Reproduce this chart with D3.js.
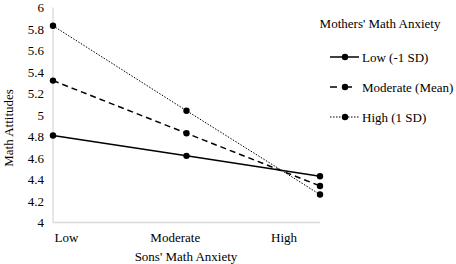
<!DOCTYPE html>
<html>
<head>
<meta charset="utf-8">
<script src="https://cdn.jsdelivr.net/npm/d3@7"></script>
</head>
<body style="margin:0; background:#fff">
<svg id="chart" width="456" height="264"></svg>
<script>
// Chart data
const categories = ["Low", "Moderate", "High"];
const seriesNames = ["Low (-1 SD)", "Moderate (Mean)", "High (1 SD)"];
const lowValues = [4.81, 4.62, 4.43];
const moderateValues = [5.32, 4.83, 4.34];
const highValues = [5.83, 5.04, 4.26];
const yTicks = [4, 4.2, 4.4, 4.6, 4.8, 5, 5.2, 5.4, 5.6, 5.8, 6];

const series = [
    { name: seriesNames[0], values: lowValues, dash: null, legendDash: null, width: 1.5 },
    { name: seriesNames[1], values: moderateValues, dash: "6,4", legendDash: "7,8", width: 1.5 },
    { name: seriesNames[2], values: highValues, dash: "1.5,1.5", legendDash: "1.5,1.5", width: 1 }
];

const FONT = '"Liberation Serif", "Times New Roman", serif';

const svg = d3.select("#chart");

// Scales
const x = d3.scalePoint().domain(categories).range([53, 320]);
const xLabel = d3.scalePoint().domain(categories).range([66.5, 284]);
const y = d3.scaleLinear().domain([4, 6]).range([222.5, 7.5]);

// Helper for text with the serif font
function addText(sel) {
    return sel.style("font-family", FONT).style("font-size", "13px").attr("fill", "#000");
}

// Axes lines
svg.append("line")
    .attr("x1", 53).attr("x2", 53)
    .attr("y1", y(6)).attr("y2", y(4))
    .attr("stroke", "#d9d9d9").attr("stroke-width", 1.3);
svg.append("line")
    .attr("x1", 53).attr("x2", 320)
    .attr("y1", y(4)).attr("y2", y(4))
    .attr("stroke", "#d9d9d9").attr("stroke-width", 1.3);

// Y tick labels
svg.append("g")
    .selectAll("text")
    .data(yTicks)
    .join("text")
    .attr("x", 44)
    .attr("y", d => y(d))
    .attr("dy", "0.35em")
    .attr("text-anchor", "end")
    .call(addText)
    .text(d => d3.format("~g")(d));

// X tick labels
svg.append("g")
    .selectAll("text")
    .data(categories)
    .join("text")
    .attr("x", d => xLabel(d))
    .attr("y", 237)
    .attr("dy", "0.35em")
    .attr("text-anchor", "middle")
    .call(addText)
    .text(d => d);

// Axis titles
svg.append("text")
    .attr("x", 186)
    .attr("y", 256)
    .attr("dy", "0.35em")
    .attr("text-anchor", "middle")
    .call(addText)
    .text("Sons' Math Anxiety");

svg.append("text")
    .attr("transform", "translate(8.5,128) rotate(-90)")
    .attr("dy", "0.35em")
    .attr("text-anchor", "middle")
    .call(addText)
    .text("Math Attitudes");

// Lines and markers
const line = d3.line()
    .x((d, i) => x(categories[i]))
    .y(d => y(d));

const groups = svg.append("g")
    .selectAll("g")
    .data(series)
    .join("g");

groups.append("path")
    .attr("d", d => line(d.values))
    .attr("fill", "none")
    .attr("stroke", "#000")
    .attr("stroke-width", d => d.width)
    .attr("stroke-dasharray", d => d.dash);

groups.selectAll("circle")
    .data(d => d.values)
    .join("circle")
    .attr("cx", (d, i) => x(categories[i]))
    .attr("cy", d => y(d))
    .attr("r", 3.2)
    .attr("fill", "#000");

// Legend
svg.append("text")
    .attr("x", 380)
    .attr("y", 23)
    .attr("dy", "0.35em")
    .attr("text-anchor", "middle")
    .call(addText)
    .text("Mothers' Math Anxiety");

const legend = svg.append("g")
    .selectAll("g")
    .data(series)
    .join("g")
    .attr("transform", (d, i) => `translate(0,${57 + i * 30})`);

legend.append("line")
    .attr("x1", 330).attr("x2", 359)
    .attr("stroke", "#000")
    .attr("stroke-width", d => d.width)
    .attr("stroke-dasharray", d => d.legendDash);

legend.append("circle")
    .attr("cx", 345)
    .attr("r", 3.2)
    .attr("fill", "#000");

legend.append("text")
    .attr("x", 362)
    .attr("dy", "0.35em")
    .call(addText)
    .text(d => d.name);
</script>
</body>
</html>
